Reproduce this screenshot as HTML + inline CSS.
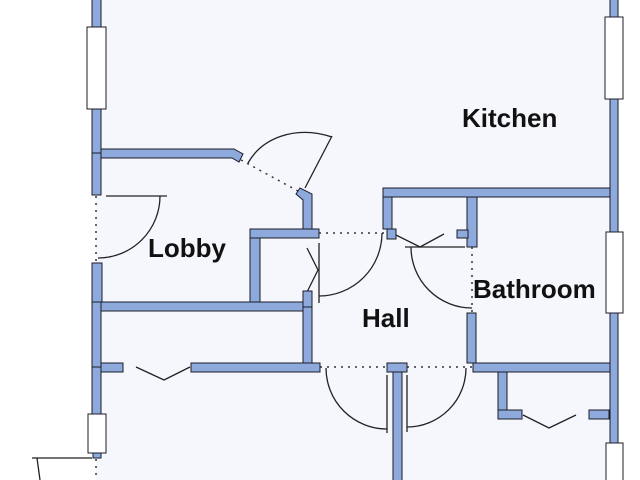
<!DOCTYPE html>
<html>
<head>
<meta charset="utf-8">
<style>
html,body{margin:0;padding:0;background:#fff;}
svg{display:block;}
text{font-family:"Liberation Sans",Arial,sans-serif;font-weight:bold;font-size:26px;fill:#111;}
</style>
</head>
<body>
<svg width="640" height="480" viewBox="0 0 640 480" xmlns="http://www.w3.org/2000/svg">
  <rect x="0" y="0" width="640" height="480" fill="#ffffff"/>
  <rect x="96" y="0" width="518" height="480" fill="#f5f7fd"/>

  <!-- dotted openings -->
  <g stroke="#333" stroke-width="1.5" stroke-dasharray="2,5" fill="none">
    <line x1="96" y1="196" x2="96" y2="263"/>
    <line x1="241" y1="160" x2="298" y2="191"/>
    <line x1="319" y1="233" x2="387" y2="233"/>
    <line x1="472" y1="247" x2="472" y2="313"/>
    <line x1="320" y1="367" x2="387" y2="367"/>
    <line x1="407" y1="367" x2="473" y2="367"/>
    <line x1="96" y1="459" x2="96" y2="480"/>
  </g>

  <!-- door lines -->
  <g stroke="#222" stroke-width="1.3" fill="none">
    <path d="M248 163 C 262 138, 295 125, 332 137"/>
    <line x1="332" y1="136" x2="305" y2="188"/>
    <line x1="106" y1="196" x2="167" y2="196"/>
    <path d="M160 196 A62 62 0 0 1 98 258"/>
    <line x1="319" y1="243" x2="319" y2="303"/>
    <path d="M382 233 A63 63 0 0 1 319 296"/>
    <polyline points="307,248 318,270 307,292"/>
    <polyline points="396,235 420,247 444,234"/>
    <line x1="405" y1="247" x2="465" y2="247"/>
    <path d="M411 247 A61 61 0 0 0 472 308"/>
    <line x1="387" y1="375" x2="387" y2="433"/>
    <line x1="407" y1="375" x2="407" y2="432"/>
    <path d="M326 368 A61 61 0 0 0 387 429"/>
    <path d="M466 368 A59 59 0 0 1 407 427"/>
    <polyline points="136,367 164,380 190,367"/>
    <polyline points="523,415 549,428 576,415"/>
    <line x1="32" y1="458" x2="92" y2="458"/>
    <line x1="37" y1="458" x2="40" y2="480"/>
  </g>

  <!-- walls -->
  <g fill="#8eaadc" stroke="#1c1c28" stroke-width="1">
    <rect x="92" y="-2" width="9" height="155"/>
    <rect x="92" y="153" width="9" height="42"/>
    <polygon points="101,149 234,149 243,154 239,162 232,158 101,158"/>
    <polygon points="296,194 300,188 312,194 312,229 303,229 303,200"/>
    <rect x="250" y="229" width="69" height="9"/>
    <rect x="250" y="238" width="10" height="64"/>
    <rect x="92" y="263" width="10" height="39"/>
    <rect x="92" y="302" width="9" height="65"/>
    <rect x="92" y="367" width="9" height="47"/>
    <rect x="101" y="302" width="202" height="9"/>
    <rect x="303" y="307" width="9" height="56"/>
    <rect x="303" y="291" width="9" height="16"/>
    <rect x="191" y="363" width="129" height="9"/>
    <rect x="101" y="363" width="22" height="9"/>
    <rect x="93" y="453" width="8" height="5"/>
    <rect x="383" y="188" width="231" height="9"/>
    <rect x="383" y="197" width="9" height="32"/>
    <rect x="387" y="229" width="9" height="10"/>
    <rect x="467" y="197" width="10" height="50"/>
    <rect x="457" y="230" width="11" height="8"/>
    <rect x="467" y="313" width="9" height="50"/>
    <rect x="473" y="363" width="141" height="9"/>
    <rect x="393" y="372" width="9" height="110"/>
    <rect x="387" y="363" width="20" height="9"/>
    <rect x="498" y="372" width="9" height="47"/>
    <rect x="498" y="410" width="24" height="9"/>
    <rect x="589" y="410" width="20" height="9"/>
    <rect x="610" y="-2" width="8" height="484"/>
  </g>

  <!-- windows -->
  <g fill="#ffffff" stroke="#1c1c28" stroke-width="1">
    <rect x="87" y="27" width="19" height="82"/>
    <rect x="88" y="414" width="18" height="39"/>
    <rect x="605" y="17" width="18" height="82"/>
    <rect x="606" y="232" width="17" height="81"/>
    <rect x="606" y="443" width="17" height="40"/>
  </g>

  <!-- labels -->
  <text x="462" y="127">Kitchen</text>
  <text x="148" y="257">Lobby</text>
  <text x="362" y="327">Hall</text>
  <text x="473" y="298">Bathroom</text>
</svg>
</body>
</html>
